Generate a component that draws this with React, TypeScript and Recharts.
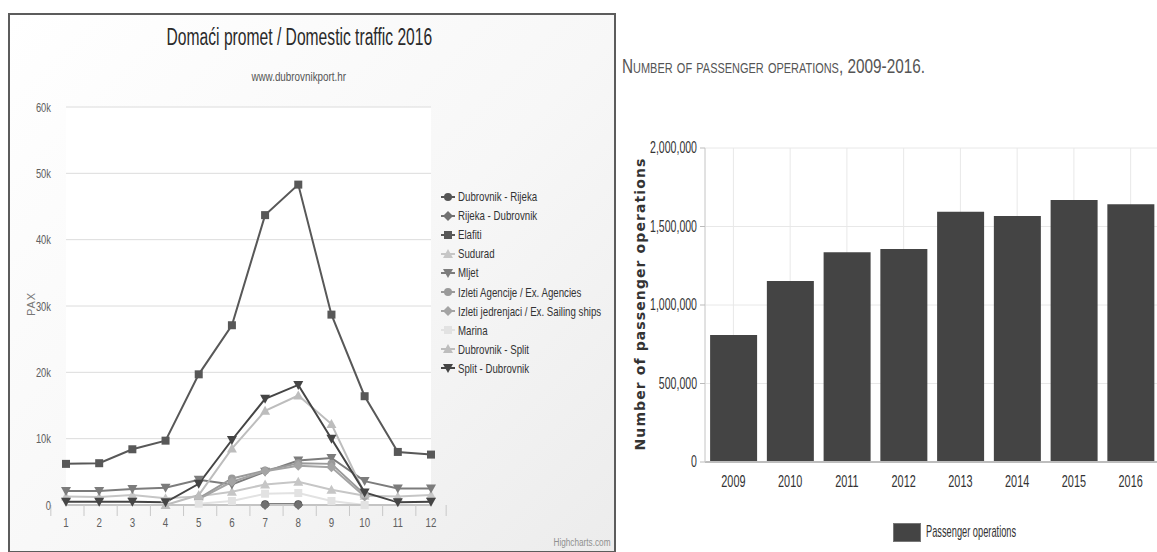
import React from 'react'
import { LineChart, Line, BarChart, Bar, XAxis, YAxis, CartesianGrid } from 'recharts'

// --- domestic traffic 2016 (PAX per month) ---
const months = ['1', '2', '3', '4', '5', '6', '7', '8', '9', '10', '11', '12']
const dubrovnikRijeka = [null, null, null, null, null, null, 100, 100, null, null, null, null]
const rijekaDubrovnik = [null, null, null, null, null, null, 0, 0, null, null, null, null]
const elafiti = [6200, 6300, 8400, 9700, 19700, 27100, 43700, 48300, 28700, 16400, 8000, 7600]
const sudurad = [1300, 1200, 1500, 1000, 1300, 2000, 3100, 3500, 2300, 1400, 1300, 1500]
const mljet = [2100, 2100, 2400, 2600, 3800, 3100, 5000, 6700, 7100, 3600, 2500, 2500]
const izletiAgencije = [null, null, null, null, 1000, 4000, 5200, 6300, 6200, 1600, null, null]
const izletiJedrenjaci = [null, null, null, null, 900, 3500, 5100, 5900, 5700, 1300, null, null]
const marina = [null, null, null, null, 200, 600, 1700, 1800, 600, 0, null, null]
const dubrovnikSplit = [null, null, null, 0, 1500, 8500, 14200, 16500, 12200, 1700, null, null]
const splitDubrovnik = [500, 500, 500, 400, 3200, 9800, 16000, 18100, 10000, 1900, 400, 500]
const paxTicks = [0, 10000, 20000, 30000, 40000, 50000, 60000]

// --- passenger operations 2009-2016 ---
const years = ['2009', '2010', '2011', '2012', '2013', '2014', '2015', '2016']
const operations = [809000, 1153000, 1336000, 1357000, 1594000, 1567000, 1669000, 1641000]
const opsTicks = [0, 500000, 1000000, 1500000, 2000000]

type Shape = 'circle' | 'diamond' | 'square' | 'triangle' | 'triangle-down'

const series: { key: string; name: string; values: (number | null)[]; color: string; shape: Shape }[] = [
  { key: 'dr', name: 'Dubrovnik - Rijeka', values: dubrovnikRijeka, color: '#555555', shape: 'circle' },
  { key: 'rd', name: 'Rijeka - Dubrovnik', values: rijekaDubrovnik, color: '#707070', shape: 'diamond' },
  { key: 'el', name: 'Elafiti', values: elafiti, color: '#585858', shape: 'square' },
  { key: 'su', name: 'Sudurad', values: sudurad, color: '#c6c6c6', shape: 'triangle' },
  { key: 'mj', name: 'Mljet', values: mljet, color: '#7c7c7c', shape: 'triangle-down' },
  { key: 'ia', name: 'Izleti Agencije / Ex. Agencies', values: izletiAgencije, color: '#9a9a9a', shape: 'circle' },
  { key: 'ij', name: 'Izleti jedrenjaci / Ex. Sailing ships', values: izletiJedrenjaci, color: '#a4a4a4', shape: 'diamond' },
  { key: 'ma', name: 'Marina', values: marina, color: '#e2e2e2', shape: 'square' },
  { key: 'ds', name: 'Dubrovnik - Split', values: dubrovnikSplit, color: '#bdbdbd', shape: 'triangle' },
  { key: 'sd', name: 'Split - Dubrovnik', values: splitDubrovnik, color: '#454545', shape: 'triangle-down' },
]

const trafficRows = months.map((m, i) => {
  const row: Record<string, string | number | null> = { month: m }
  series.forEach((s) => (row[s.key] = s.values[i]))
  return row
})

const opsRows = years.map((y, i) => ({ year: y, ops: operations[i] }))

// no condensed fonts installed, so Liberation Sans gets squeezed horizontally
const SANS = '"Liberation Sans", Arial, sans-serif'

function Squeeze({ k, origin = 'left', children, style }: { k: number; origin?: string; children: React.ReactNode; style?: React.CSSProperties }) {
  return (
    <span style={{ display: 'inline-block', whiteSpace: 'nowrap', transform: `scaleX(${k})`, transformOrigin: origin, ...style }}>
      {children}
    </span>
  )
}

function CText({ x, y, k, anchor, size, fill, children }: any) {
  return (
    <text
      transform={`translate(${x},${y}) scale(${k},1)`}
      textAnchor={anchor}
      dominantBaseline="central"
      fontSize={size}
      fill={fill}
      fontFamily={SANS}
    >
      {children}
    </text>
  )
}

function Marker({ shape, cx, cy, color }: { shape: Shape; cx: number; cy: number; color: string }) {
  if (shape === 'circle') return <circle cx={cx} cy={cy} r={4} fill={color} />
  if (shape === 'square') return <rect x={cx - 4} y={cy - 4} width={8} height={8} fill={color} />
  if (shape === 'diamond')
    return <polygon points={`${cx},${cy - 5} ${cx + 5},${cy} ${cx},${cy + 5} ${cx - 5},${cy}`} fill={color} />
  if (shape === 'triangle')
    return <polygon points={`${cx},${cy - 5} ${cx + 5},${cy + 4} ${cx - 5},${cy + 4}`} fill={color} />
  return <polygon points={`${cx},${cy + 5} ${cx + 5},${cy - 4} ${cx - 5},${cy - 4}`} fill={color} />
}

const makeDot = (shape: Shape, color: string) => (props: any) => {
  const { cx, cy, value, index } = props
  if (value == null || cx == null || cy == null) return <g key={index} />
  return <Marker key={index} shape={shape} cx={cx} cy={cy} color={color} />
}

// x ticks sit at category centres, tick marks at category borders like highcharts
const BAND = 364 / 12
function MonthTick(props: any) {
  const { x, y, payload, index } = props
  return (
    <g>
      <line x1={x - BAND / 2} y1={y - 8} x2={x - BAND / 2} y2={y + 3} stroke="#c8c8c8" />
      {index === months.length - 1 && (
        <line x1={x + BAND / 2} y1={y - 8} x2={x + BAND / 2} y2={y + 3} stroke="#c8c8c8" />
      )}
      <CText x={x} y={y + 9} k={0.75} anchor="middle" size={13} fill="#606060">
        {payload.value}
      </CText>
    </g>
  )
}

function PaxTick(props: any) {
  const { x, y, payload } = props
  const v = payload.value as number
  return (
    <CText x={x - 7} y={y} k={0.72} anchor="end" size={13} fill="#606060">
      {v === 0 ? '0' : `${v / 1000}k`}
    </CText>
  )
}

function YearTick(props: any) {
  const { x, y, payload } = props
  return (
    <CText x={x} y={y + 12} k={0.68} anchor="middle" size={16} fill="#333">
      {payload.value}
    </CText>
  )
}

function OpsTick(props: any) {
  const { x, y, payload } = props
  return (
    <CText x={x - 1} y={y} k={0.66} anchor="end" size={16} fill="#333">
      {(payload.value as number).toLocaleString('en-US')}
    </CText>
  )
}

function TrafficLegend() {
  return (
    <div style={{ fontFamily: SANS, fontSize: 13, color: '#333' }}>
      {series.map((s) => (
        <div key={s.key} style={{ display: 'flex', alignItems: 'center', height: 19.1 }}>
          <svg width={14} height={12} style={{ marginRight: 3 }}>
            <line x1={0} y1={6} x2={14} y2={6} stroke={s.color} strokeWidth={2} />
            <Marker shape={s.shape} cx={7} cy={6} color={s.color} />
          </svg>
          <Squeeze k={0.745}>{s.name}</Squeeze>
        </div>
      ))}
    </div>
  )
}

export default function App() {
  return (
    <div style={{ position: 'absolute', left: 0, top: 0, width: 1157, height: 552, background: '#fff', overflow: 'hidden' }}>
      {/* left panel: highcharts export */}
      <div
        style={{
          position: 'absolute',
          left: 8,
          top: 13,
          width: 604,
          height: 536,
          border: '2px solid #5c5c5c',
          background: 'linear-gradient(135deg, #ffffff 0%, #f7f7f7 55%, #ececec 100%)',
        }}
      >
        <div style={{ position: 'absolute', left: 0, width: 578, top: 9, textAlign: 'center', fontFamily: SANS, fontSize: 23, color: '#2a2a2a' }}>
          <Squeeze k={0.68} origin="center">Domaći promet / Domestic traffic 2016</Squeeze>
        </div>
        <div style={{ position: 'absolute', left: 0, width: 578, top: 55, textAlign: 'center', fontFamily: SANS, fontSize: 12, color: '#555' }}>
          <Squeeze k={0.82} origin="center">www.dubrovnikport.hr</Squeeze>
        </div>
        <div
          style={{
            position: 'absolute',
            left: 9,
            top: 283,
            transform: 'rotate(-90deg)',
            transformOrigin: 'center',
            fontFamily: SANS,
            fontSize: 11,
            color: '#777',
            letterSpacing: 1,
          }}
        >
          PAX
        </div>
        <div style={{ position: 'absolute', right: 4, bottom: 3, fontFamily: SANS, fontSize: 10, color: '#909090' }}>
          <Squeeze k={0.82} origin="right">Highcharts.com</Squeeze>
        </div>
        <div style={{ position: 'absolute', left: 431, top: 172 }}>
          <TrafficLegend />
        </div>
        <LineChart
          width={604}
          height={536}
          data={trafficRows}
          margin={{ top: 92, right: 183, bottom: 16, left: 0 }}
          style={{ position: 'absolute', left: 0, top: 0 }}
        >
          <CartesianGrid vertical={false} stroke="#dcdcdc" fill="#ffffff" />
          <XAxis
            dataKey="month"
            axisLine={{ stroke: '#c4c4c4', strokeWidth: 2 }}
            tickLine={false}
            tick={<MonthTick />}
            height={30}
            interval={0}
          />
          <YAxis
            domain={[0, 60000]}
            ticks={paxTicks}
            axisLine={false}
            tickLine={false}
            width={56}
            tick={<PaxTick />}
          />
          <YAxis yAxisId="edge" orientation="right" width={0} tick={false} axisLine={{ stroke: '#dddddd' }} />
          {series.map((s) => (
            <Line
              key={s.key}
              dataKey={s.key}
              name={s.name}
              type="linear"
              stroke={s.color}
              strokeWidth={2}
              dot={makeDot(s.shape, s.color)}
              activeDot={false}
              isAnimationActive={false}
            />
          ))}
        </LineChart>
      </div>

      {/* right panel: passenger operations */}
      <div style={{ position: 'absolute', left: 615, top: 0, width: 542, height: 552 }}>
        <div
          style={{
            position: 'absolute',
            left: 7,
            top: 54,
            fontFamily: SANS,
            fontVariant: 'small-caps',
            fontSize: 21,
            color: '#555',
          }}
        >
          <Squeeze k={0.73}>Number of passenger operations, 2009-2016.</Squeeze>
        </div>
        <div style={{ position: 'absolute', left: 25, top: 304, width: 0, height: 0 }}>
          <div
            style={{
              position: 'absolute',
              transform: 'translate(-50%, -50%) rotate(-90deg)',
              whiteSpace: 'nowrap',
              fontFamily: '"DejaVu Sans", sans-serif',
              fontWeight: 'bold',
              fontSize: 14,
              color: '#333',
              letterSpacing: 1.1,
            }}
          >
            Number of passenger operations
          </div>
        </div>
        <div
          style={{
            position: 'absolute',
            left: 278,
            top: 522,
            display: 'flex',
            alignItems: 'center',
            fontFamily: SANS,
            fontSize: 17,
            color: '#333',
          }}
        >
          <span style={{ width: 26, height: 17, background: '#444', border: '1px solid #777', marginRight: 5, display: 'inline-block' }} />
          <Squeeze k={0.545}>Passenger operations</Squeeze>
        </div>
        <BarChart
          width={544}
          height={552}
          data={opsRows}
          margin={{ top: 148, right: 0, bottom: 36, left: 0 }}
          barCategoryGap="9%"
          style={{ position: 'absolute', left: 0, top: 0 }}
        >
          <CartesianGrid stroke="#e8e8e8" />
          <XAxis
            dataKey="year"
            axisLine={{ stroke: '#bdbdbd', strokeWidth: 2 }}
            tickLine={false}
            tick={<YearTick />}
            height={54}
          />
          <YAxis
            domain={[0, 2000000]}
            ticks={opsTicks}
            axisLine={{ stroke: '#d0d0d0' }}
            tickLine={{ stroke: '#bbbbbb' }}
            tickSize={5}
            width={90}
            tick={<OpsTick />}
          />
          <Bar dataKey="ops" name="Passenger operations" fill="#444444" isAnimationActive={false} />
        </BarChart>
      </div>
    </div>
  )
}
